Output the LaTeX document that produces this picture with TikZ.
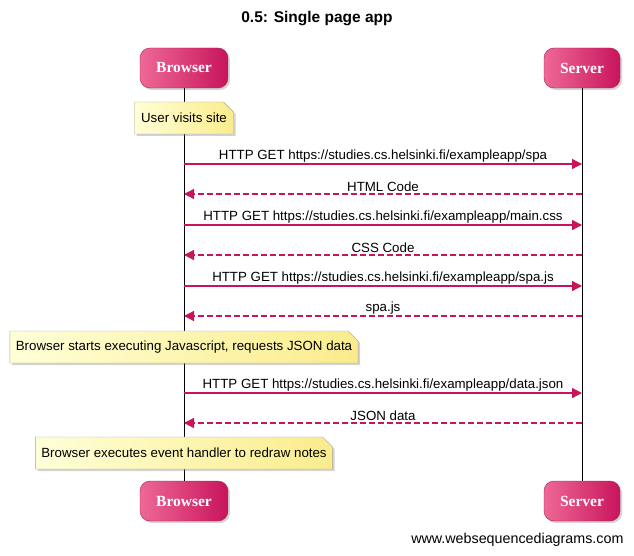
\documentclass[tikz,border=0pt]{standalone}
\usepackage{fontspec}
\setmainfont{Liberation Sans}
\newfontfamily\actorfont{Liberation Serif}
\usepackage{xcolor}
\usepackage{tikz}
\usetikzlibrary{arrows.meta, positioning, shadows, shapes.misc}

\definecolor{msgcol}{RGB}{200,20,90}
\definecolor{actleft}{RGB}{238,104,150}
\definecolor{actright}{RGB}{200,20,92}
\definecolor{actline}{RGB}{170,30,80}
\definecolor{noteleft}{RGB}{255,255,215}
\definecolor{noteright}{RGB}{250,236,140}

\begin{document}
\begin{tikzpicture}[
            x=1pt, y=-1pt,
            actor/.style={rectangle, rounded corners=10pt, draw=actline, thin,
                left color=actleft, right color=actright, minimum height=40pt,
                drop shadow={shadow xshift=2pt, shadow yshift=-2pt, opacity=0.35},
                font=\actorfont\bfseries\fontsize{15.5}{18}\selectfont, text=white},
            lifeline/.style={black, thin},
            note/.style={chamfered rectangle, chamfered rectangle corners=north east,
                chamfered rectangle xsep=5pt, chamfered rectangle ysep=5pt,
                draw=gray!70, thin, left color=noteleft, right color=noteright,
                minimum height=32pt, inner xsep=1pt,
                drop shadow={shadow xshift=2pt, shadow yshift=-2pt, opacity=0.35},
                font=\fontsize{13.3}{15}\selectfont},
            req/.style={msgcol, line width=1.3pt, -{Triangle[length=10pt, width=10pt]}},
            resp/.style={msgcol, line width=1.3pt, dash pattern=on 6pt off 3pt,
                -{Triangle[length=10pt, width=10pt]}},
            msg/.style={font=\fontsize{13.3}{15}\selectfont, text=black, above, inner sep=1.5pt, midway}
        ]
        \useasboundingbox (0,0) rectangle (634,556);

        % Title
        \node[font=\bfseries\fontsize{15.5}{18}\selectfont] (title) at (317,19) {0.5: Single page app};

        % Actors (top and bottom)
        \node[actor, minimum width=88pt] (bt) at (184,68) {Browser};
        \node[actor, minimum width=76pt] (st) at (582,68) {Server};
        \node[actor, minimum width=88pt] (bb) at (184,501) {Browser};
        \node[actor, minimum width=76pt] (sb) at (582,501) {Server};

        % Lifelines
        \draw[lifeline] (bt) -- (bb);
        \draw[lifeline] (st) -- (sb);

        % Notes
        \node[note, minimum width=99pt] (n1) at (184,118) {User visits site};

        % Message points on the lifelines
        \coordinate (b1) at (184,164); \coordinate (s1) at (582,164);
        \coordinate (b2) at (184,194); \coordinate (s2) at (582,194);
        \coordinate (b3) at (184,225); \coordinate (s3) at (582,225);
        \coordinate (b4) at (184,255); \coordinate (s4) at (582,255);
        \coordinate (b5) at (184,286); \coordinate (s5) at (582,286);
        \coordinate (b6) at (184,316); \coordinate (s6) at (582,316);
        \coordinate (b7) at (184,393); \coordinate (s7) at (582,393);
        \coordinate (b8) at (184,423); \coordinate (s8) at (582,423);

        % Messages
        \draw[req] (b1) -- node[msg] {HTTP GET https://studies.cs.helsinki.fi/exampleapp/spa} (s1);
        \draw[resp] (s2) -- node[msg] {HTML Code} (b2);
        \draw[req] (b3) -- node[msg] {HTTP GET https://studies.cs.helsinki.fi/exampleapp/main.css} (s3);
        \draw[resp] (s4) -- node[msg] {CSS Code} (b4);
        \draw[req] (b5) -- node[msg] {HTTP GET https://studies.cs.helsinki.fi/exampleapp/spa.js} (s5);
        \draw[resp] (s6) -- node[msg] {spa.js} (b6);

        \node[note, minimum width=348pt] (n2) at (184,347) {Browser starts executing Javascript, requests JSON data};

        \draw[req] (b7) -- node[msg] {HTTP GET https://studies.cs.helsinki.fi/exampleapp/data.json} (s7);
        \draw[resp] (s8) -- node[msg] {JSON data} (b8);

        \node[note, minimum width=293pt] (n3) at (184,453) {Browser executes event handler to redraw notes};

        % Footer
        \node[anchor=east, font=\fontsize{14.3}{16}\selectfont] (web) at (627,540) {www.websequencediagrams.com};

    \end{tikzpicture}
\end{document}
